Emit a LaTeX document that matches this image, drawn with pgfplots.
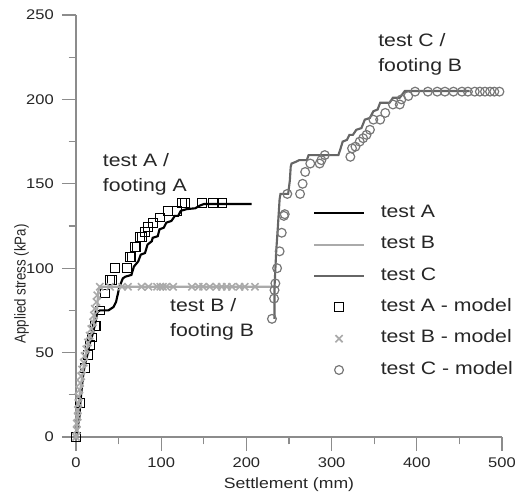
\documentclass[border=0pt]{standalone}
\usepackage{fontspec}
\setmainfont{Liberation Sans}
\usepackage{graphicx}
\usepackage{pgfplots}
\pgfplotsset{compat=1.18}
\definecolor{axgray}{HTML}{8C8C8C}
\definecolor{lineB}{HTML}{AAAAAA}
\definecolor{lineC}{HTML}{666666}
\definecolor{markC}{HTML}{777777}
\definecolor{txt}{HTML}{262626}
\newcommand\hs[1]{\scalebox{1.18}[1]{#1}}
\newcommand\bigf{\fontsize{13.5}{16}\selectfont}
\begin{document}
\begin{tikzpicture}
\begin{axis}[
  at={(0,0)}, anchor=south west,
  scale only axis, width=319.5pt, height=316.5pt,
  xmin=0, xmax=500, ymin=0, ymax=250,
  clip=false,
  axis x line*=bottom, axis y line*=left,
  axis line style={-, draw=axgray, line width=0.8pt},
  tick align=outside,
  major tick length=10.5pt, minor tick length=5.5pt,
  every tick/.style={draw=axgray, line width=0.8pt},
  xtick={0,100,200,300,400,500}, ytick={0,50,100,150,200,250},
  minor x tick num=1, minor y tick num=1,
  xticklabels={\hs{0},\hs{100},\hs{200},\hs{300},\hs{400},\hs{500}},
  yticklabels={\hs{0},\hs{50},\hs{100},\hs{150},\hs{200},\hs{250}},
  ticklabel style={font=\fontsize{10.5}{12}\selectfont, text=txt},
  xticklabel style={anchor=north, inner sep=0pt, yshift=-5pt},
  yticklabel style={anchor=east, inner sep=0pt, xshift=-6pt},
  xlabel={\hs{Settlement (mm)}},
  ylabel={\scalebox{1}[1.18]{Applied stress (kPa)}},
  label style={text=txt},
  xlabel style={font=\fontsize{11.2}{13}\selectfont, at={(axis description cs:0.5,0)}, anchor=center, yshift=-36pt},
  ylabel style={font=\fontsize{10}{12}\selectfont, at={(axis description cs:0,0.3626)}, anchor=center, yshift=40.9pt},
  legend cell align=left,
  legend style={at={(axis cs:278.2,138)}, anchor=north west, draw=none, fill=none,
    inner sep=0pt, row sep=10pt, column sep=12pt, font=\bigf, text=txt,
    nodes={inner sep=0pt, text height=10pt, text depth=3.5pt}},
  legend image code/.code={\draw[mark repeat=2,mark phase=2,#1] plot coordinates {(0pt,0pt)(18.5pt,0pt)(37pt,0pt)};},
]
% test A line
\addplot[black, line width=1.6pt, mark=none] coordinates {
(0,0)(4,12)(5,20)(8,35)(10,42)(13,48)(16,55)(19,60)(22,66)(25,74)(28,75)(38,75)(44,77)(47,80)(51,89)(55,94)(58,95)(65,96)(68,101)(73,104)(76,108)(81,109)(84,114)(89,116)(90,118)(96,119)(98,123)(103,124)(106,127)(112,128)(116,131)(120,131)(123,134)(130,135)(140,135.5)(145,137)(150,138)(206,138)};
\addlegendentry{\hs{test A}}
% test B line
\addplot[lineB, line width=1.6pt, mark=none] coordinates {
(0,0)(1,5)(2,12)(3,20)(5,28)(7,35)(9,42)(12,50)(15,57)(18,62)(20,67)(22,74)(25,76)(26,86)(28,89)(233,89)};
\addlegendentry{\hs{test B}}
% test C line
\addplot[lineC, line width=1.6pt, mark=none] coordinates {
(233,70)(233,89)(235,110)(237,125)(239,141)(240,144)(249,144)(250,148)(251,152)(252,160)(253,162)(258,163)(262,164)(271,164)(273,167)(280,167)(308,167)(310,170)(313,175)(318,176)(321,179)(325,179)(329,182)(335,183)(339,188)(345,189)(349,193)(354,194)(357,198)(368,198)(372,201)(380,201)(386,205)(462,205)};
\addlegendentry{\hs{test C}}
% test A model
\addplot[only marks, mark=square, mark size=3.3pt, mark options={draw=black, line width=0.7pt, fill=none}] coordinates {
(0,0)(5,20)(10.5,41)(14,48.5)(16,54.5)(19,59)(22,66)(24,66)(28,75)(34,85)(40,93)(42,93)(46,100)(59.5,100)(63,106.6)(65,106.6)(69,112.6)(71,112.6)(75,118.6)(77,118.6)(81,121.5)(84.5,124.4)(90,127)(98.6,130)(108,134)(118.5,134)(124,138.6)(128,138.6)(148,138.6)(161,138.6)(172,138.6)};
\addlegendentry{\hs{test A - model}}
% test B model
\addplot[only marks, mark=x, mark size=3.8pt, mark options={draw=lineB, line width=1.2pt}] coordinates {
(0,0)(1,4)(1,8)(2,12)(2,16)(3,20)(3,24)(4,28)(5,32)(6,36)(7,40)(9,44)(10,48)(12,52)(14,56)(16,60)(18,64)(20,68)(21,72)(22,76)(24,80)(25,84)
(28,89)(40,89)(54,89)(61,89)(77,89)(85,89)(95,89)(99,89)(102,89)(106,89)(114,89)(136,89)(144,89)(149,89)(157,89)(165,89)(171,89)(177,89)(183,89)(192,89)(198,89)(210,89)};
\addlegendentry{\hs{test B - model}}
% test C model
\addplot[only marks, mark=o, mark size=3.3pt, mark options={draw=markC, line width=0.9pt, fill=none}] coordinates {
(230,70)(232.5,82)(233,87)(234,91)(236,100)(239,110)(241.5,121)(244,131)(245,132)(248,144)(263,144)(266,150)(269,157)(275,162)(286,162)(288,164)(292,167)(322,166)(324,171)(328,172)(333,175)(337,177)(341,179)(345,182)(349,188)(357,188)(363,192)(372,197)(380,197)(382,200)(390,202)(398,204.6)(413,204.6)(424,204.6)(433,204.6)(443,204.6)(453,204.6)(460,204.6)(468,204.6)(474,204.6)(480,204.6)(486,204.6)(491,204.6)(497,204.6)};
\addlegendentry{\hs{test C - model}}
% annotations
\node[anchor=base west, font=\bigf, text=txt, inner sep=0pt] at (axis cs:31.3,160.1) {\hs{test A /}};
\node[anchor=base west, font=\bigf, text=txt, inner sep=0pt] at (axis cs:31.3,145.3) {\hs{footing A}};
\node[anchor=base west, font=\bigf, text=txt, inner sep=0pt] at (axis cs:110.3,74.3) {\hs{test B /}};
\node[anchor=base west, font=\bigf, text=txt, inner sep=0pt] at (axis cs:110.3,59.5) {\hs{footing B}};
\node[anchor=base west, font=\bigf, text=txt, inner sep=0pt] at (axis cs:354.5,231.3) {\hs{test C /}};
\node[anchor=base west, font=\bigf, text=txt, inner sep=0pt] at (axis cs:354.5,216.5) {\hs{footing B}};
\end{axis}
\pgfresetboundingbox
\path[use as bounding box] (-57pt,-46.5pt) rectangle (329.25pt,327.75pt);
\end{tikzpicture}
\end{document}
